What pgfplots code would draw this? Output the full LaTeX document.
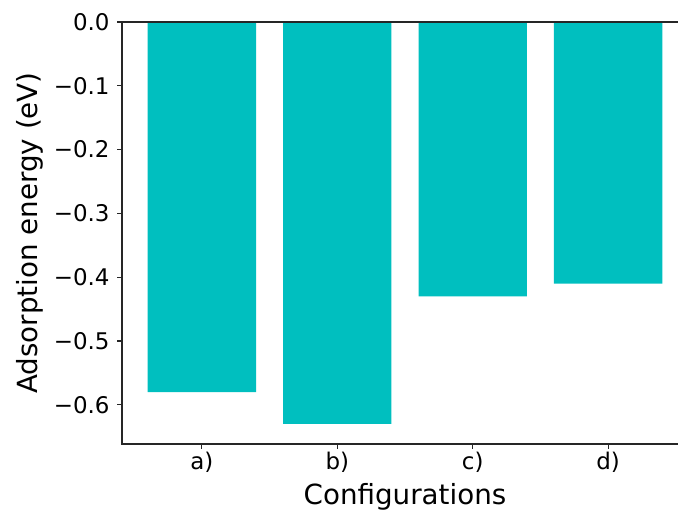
\documentclass[border=0pt]{standalone}
\usepackage{pgfplots}
\pgfplotsset{compat=1.18}
\usepackage{fontspec}
\setmainfont{DejaVu Sans}
\definecolor{mplc}{RGB}{0,191,191}
\begin{document}
\begin{tikzpicture}[x=1pt,y=1pt]
\begin{axis}[
  at={(0,0)}, anchor=south west,
  scale only axis, width=424.5pt, height=316.5pt,
  xmin=-0.59, xmax=3.59, ymin=-0.6615, ymax=0,
  axis on top,
  axis line style={line width=0.83pt, black!85},
  major tick style={line width=0.83pt, black!85},
  major tick length=3.65pt,
  tick align=outside,
  xtick pos=bottom, ytick pos=left,
  xtick={0,1,2,3}, xticklabels={a),b),c),d)},
  ytick={-0.6,-0.5,-0.4,-0.3,-0.2,-0.1,0},
  yticklabels={−0.6,−0.5,−0.4,−0.3,−0.2,−0.1,0.0},
  tick label style={font=\fontsize{17.2}{20}\selectfont},
  yticklabel style={inner xsep=5.5pt},
  xticklabel style={inner ysep=2.5pt},
  xlabel={Configurations}, ylabel={Adsorption energy (eV)},
  label style={font=\fontsize{20.8}{24}\selectfont},
  xlabel style={at={(axis description cs:0.5,-0.1256)}, anchor=center},
  ylabel style={at={(axis description cs:-0.1625,0.5)}, anchor=center},
]
\addplot[ybar, bar width=0.8, fill=mplc, draw=none] coordinates {(0,-0.58) (1,-0.63) (2,-0.43) (3,-0.41)};
\end{axis}
\pgfresetboundingbox
\path[use as bounding box] (-91.5,-51.75) rectangle (417,333);
\end{tikzpicture}
\end{document}
